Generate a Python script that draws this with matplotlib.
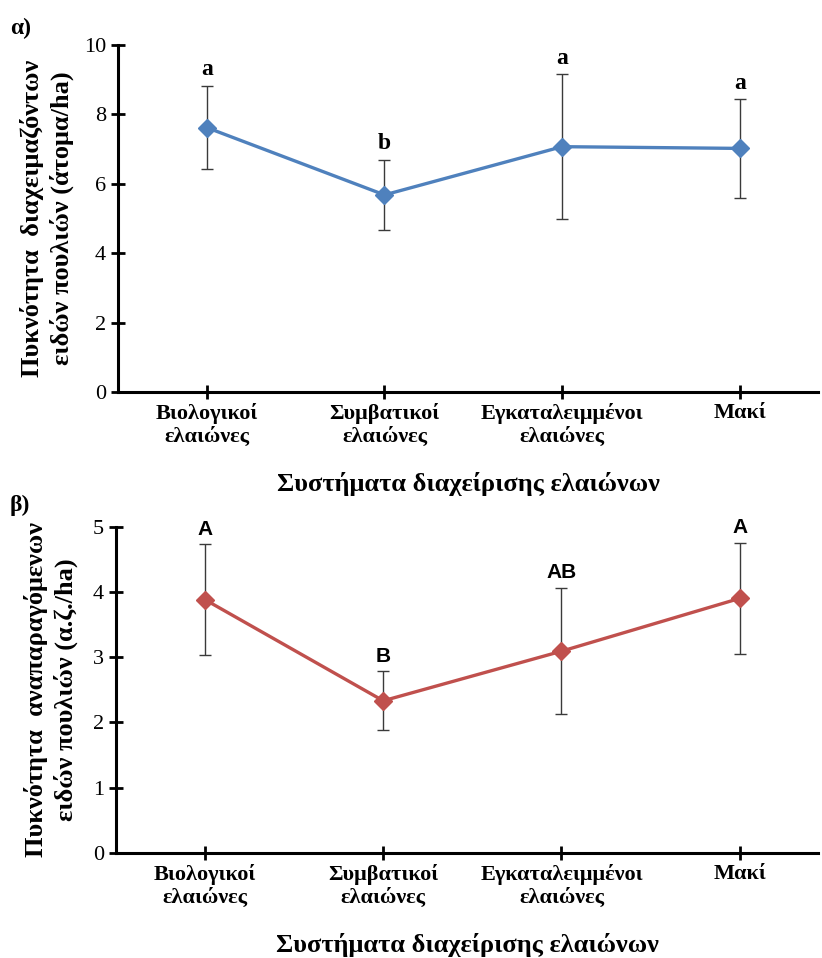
import matplotlib.pyplot as plt

plt.rcParams['font.family'] = ['Liberation Serif', 'DejaVu Serif']

# Data
categories = ["Βιολογικοί\nελαιώνες", "Συμβατικοί\nελαιώνες",
              "Εγκαταλειμμένοι\nελαιώνες", "Μακί"]

# a) wintering species density (individuals/ha)
winter_mean = [7.62, 5.68, 7.07, 7.02]
winter_err = [1.2, 1.01, 2.09, 1.42]
winter_letters = ["a", "b", "a", "a"]

# b) breeding species density (pairs/ha)
breed_mean = [3.88, 2.33, 3.09, 3.90]
breed_err = [0.85, 0.45, 0.97, 0.85]
breed_letters = ["A", "B", "AB", "A"]

fig = plt.figure(figsize=(8.22, 9.58), dpi=100)

ax1 = fig.add_axes([118 / 822, 1 - 392 / 958, 700 / 822, 347 / 958])
ax2 = fig.add_axes([116 / 822, 1 - 852.7 / 958, 702 / 822, 326 / 958])

panels = [
    (ax1, winter_mean, winter_err, winter_letters, '#4F81BD', 10, 2,
     "Πυκνότητα  διαχειμαζόντων\nειδών πουλιών (άτομα/ha)",
     dict(family=['Liberation Serif'], fontweight='bold', fontsize=17), -0.101),
    (ax2, breed_mean, breed_err, breed_letters, '#C0504D', 5, 1,
     "Πυκνότητα  αναπαραγόμενων\nειδών πουλιών (α.ζ./ha)",
     dict(family=['Liberation Sans'], fontweight='bold', fontsize=15), -0.093),
]

x = list(range(len(categories)))

for ax, mean, err, letters, color, ymax, step, ylab, letter_font, ylab_x in panels:
    ax.errorbar(x, mean, yerr=err, fmt='none', ecolor='#3a3a3a',
                elinewidth=1, capsize=4, capthick=1, zorder=2)
    ax.plot(x, mean, color=color, linewidth=2.4, marker='D',
            markersize=9, zorder=3)

    # significance letters just above each error bar
    for xi, m, e, lab in zip(x, mean, err, letters):
        ax.annotate(lab, (xi, m + e), xytext=(0, 4), textcoords='offset points',
                    ha='center', va='bottom', **letter_font)

    ax.set_ylim(0, ymax)
    ax.set_xlim(-0.5, 3.44)
    ax.set_yticks(range(0, ymax + 1, step))
    ax.set_xticks(x)
    ax.set_xticklabels(categories, fontsize=16, fontweight='bold')
    for s in ['top', 'right']:
        ax.spines[s].set_visible(False)
    for s in ['left', 'bottom']:
        ax.spines[s].set_linewidth(2.2)
    ax.tick_params(axis='both', direction='inout', length=10, width=2,
                   labelsize=16)
    ax.tick_params(axis='x', pad=3)
    ax.set_xlabel("Συστήματα διαχείρισης ελαιώνων", fontsize=19,
                  fontweight='bold', labelpad=18)
    ax.set_ylabel(ylab, fontsize=19, fontweight='bold', linespacing=1.3,
                  va='center')
    ax.yaxis.set_label_coords(ylab_x, 0.5)

fig.text(10 / 822, 1 - 28 / 958, "α)", fontsize=17, fontweight='bold',
         va='center', ha='left')
fig.text(10 / 822, 1 - 505 / 958, "β)", fontsize=17, fontweight='bold',
         va='center', ha='left')

plt.savefig("out.png", dpi=100)
